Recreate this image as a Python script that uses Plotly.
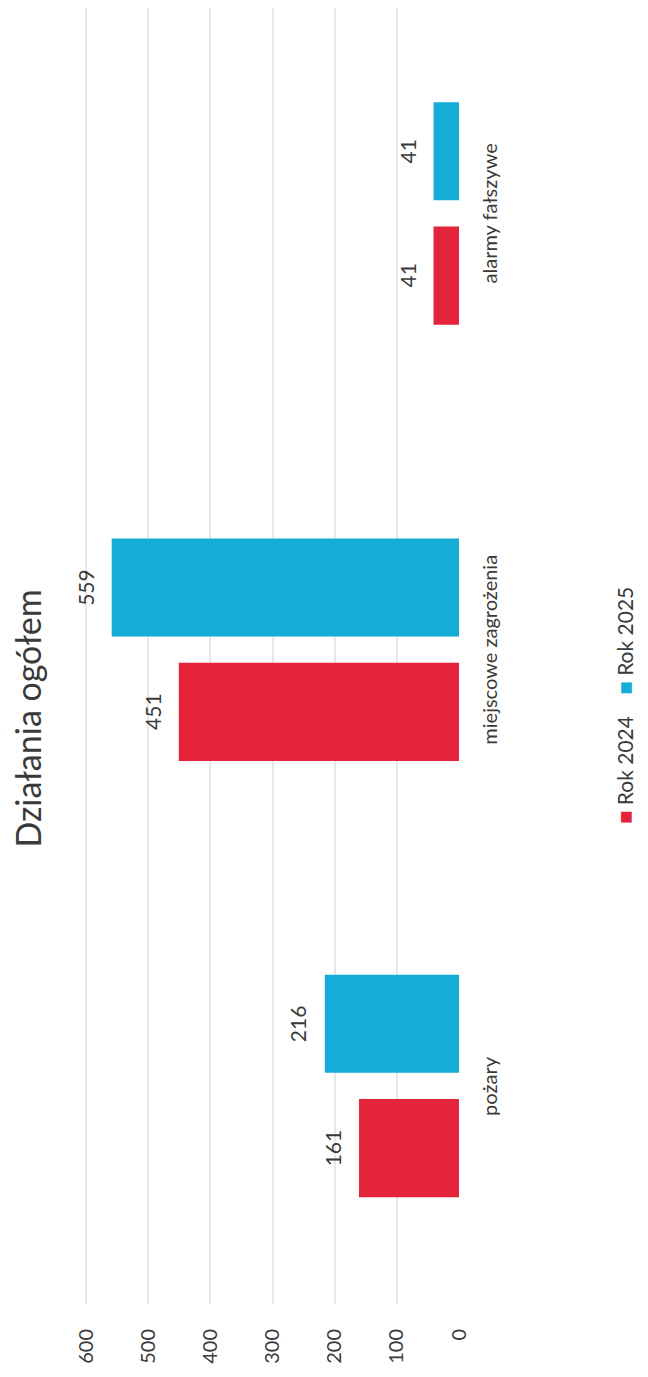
import plotly.graph_objects as go

categories = ["pożary", "miejscowe zagrożenia", "alarmy fałszywe"]
series_names = ["Rok 2024", "Rok 2025"]
values_2024 = [161, 451, 41]
values_2025 = [216, 559, 41]
tick_values = [0, 100, 200, 300, 400, 500, 600]
tick_labels = ["0", "100", "200", "300", "400", "500", "600"]
title_text = "Działania ogółem"

RED = "#E3243B"
BLUE = "#16ACD8"
FONT = "Lato, 'Open Sans', sans-serif"
TXT = "#3A3A3A"

yidx = list(range(len(categories)))

fig = go.Figure()
fig.add_trace(go.Bar(y=yidx, x=values_2024, orientation="h", name=series_names[0],
                     marker=dict(color=RED, line=dict(width=0)), width=0.225, offset=-0.255,
                     hoverinfo="x+name"))
fig.add_trace(go.Bar(y=yidx, x=values_2025, orientation="h", name=series_names[1],
                     marker=dict(color=BLUE, line=dict(width=0)), width=0.225, offset=0.030,
                     hoverinfo="x+name"))

ann = []
for i, c in enumerate(categories):
    ann.append(dict(x=0, y=i, xref="x", yref="y", text=c, showarrow=False, textangle=-90,
                    xanchor="center", yanchor="middle", xshift=30,
                    font=dict(family=FONT, size=20, color=TXT)))
    for vals, ys in ((values_2024, -62), (values_2025, 62)):
        ann.append(dict(x=vals[i], y=i, xref="x", yref="y", text=str(vals[i]), showarrow=False,
                        textangle=-90, xanchor="right", yanchor="middle", xshift=-12, yshift=ys,
                        font=dict(family=FONT, size=21, color=TXT)))

ann.append(dict(x=-0.139, y=0.452, xref="paper", yref="paper", text=title_text, showarrow=False,
                textangle=-90, xanchor="center", yanchor="middle",
                font=dict(family=FONT, size=34, color=TXT)))
legend_text = (f'<span style="color:{RED};font-size:22px">■</span> {series_names[0]}'
               f'    <span style="color:{BLUE};font-size:22px">■</span> {series_names[1]}')
ann.append(dict(x=1.437, y=0.462, xref="paper", yref="paper", text=legend_text, showarrow=False,
                textangle=-90, xanchor="center", yanchor="middle",
                font=dict(family=FONT, size=21, color=TXT)))

fig.update_layout(
    width=632, height=1361,
    margin=dict(l=72, r=181, t=0, b=65),
    paper_bgcolor="white", plot_bgcolor="white",
    showlegend=False,
    annotations=ann,
    xaxis=dict(range=[610, 0], tickvals=tick_values, ticktext=tick_labels, tickangle=-90,
               showgrid=True, gridcolor="#E8E8E8", gridwidth=1.5, zeroline=False,
               showline=False, ticks="", ticklabelstandoff=20,
               tickfont=dict(family=FONT, size=20, color=TXT)),
    yaxis=dict(range=[-0.5, 2.471], showticklabels=False, showgrid=False, zeroline=False,
               showline=False, ticks=""),
    font=dict(family=FONT),
)

fig.write_html("out.html")
